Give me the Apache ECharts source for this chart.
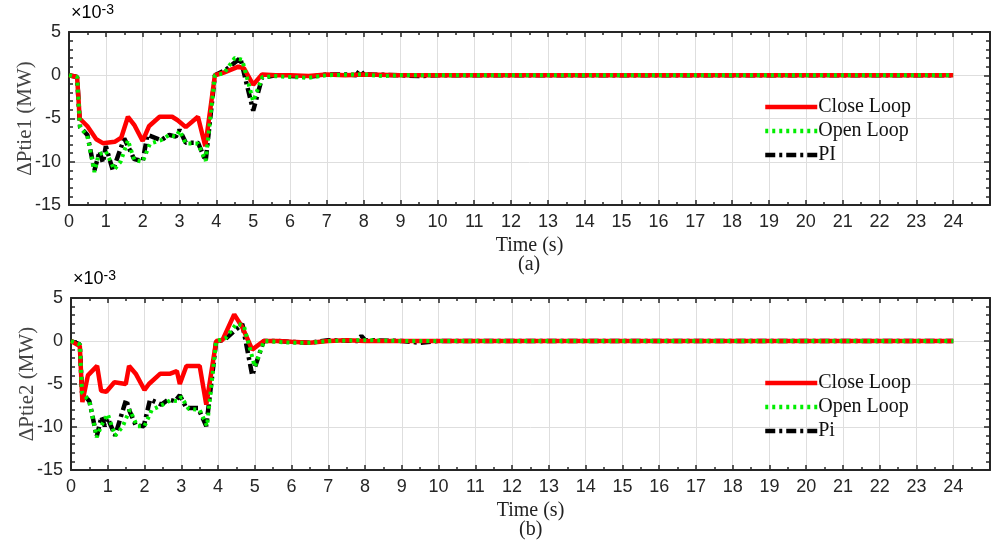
<!DOCTYPE html>
<html>
<head>
<meta charset="utf-8">
<script src="https://cdn.jsdelivr.net/npm/echarts@6/dist/echarts.min.js"></script>
<style>
    html, body { margin: 0; padding: 0; background: #fff; }
    #chart { width: 993px; height: 546px; }
</style>
</head>
<body>
<div id="chart"></div>
<script>
    // values in units of 1e-3 MW, time in s
    var closeTop = [[0, 0], [0.22, -0.2], [0.29, -5.0], [0.5, -5.9], [0.74, -7.4], [0.92, -7.85], [1.24, -7.7],
        [1.42, -7.2], [1.6, -4.8], [1.78, -5.8], [2.0, -7.6], [2.17, -5.9], [2.46, -4.8], [2.8, -4.8], [2.95, -5.2],
        [3.17, -6.0], [3.5, -4.8], [3.7, -8.2], [3.96, 0], [4.2, 0.3], [4.6, 1.0], [4.75, 0.8], [5.0, -1.1],
        [5.24, 0.1], [5.6, 0], [6.0, 0], [6.5, -0.1], [7.0, 0.1], [7.5, 0], [8.0, 0.1], [9.0, 0], [10, 0],
        [12, 0], [16, 0], [20, 0], [24, 0]];
    var openTop = [[0, 0], [0.22, -0.2], [0.3, -6.0], [0.5, -7.0], [0.69, -11.2], [0.8, -9.2], [1.0, -8.8],
        [1.23, -10.9], [1.4, -10.0], [1.6, -7.5], [1.77, -9.8], [2.0, -10.0], [2.2, -7.9], [2.5, -7.5],
        [2.72, -6.9], [2.9, -7.1], [3.0, -6.4], [3.17, -7.9], [3.5, -7.9], [3.71, -9.9], [3.96, 0], [4.2, 0.2],
        [4.5, 2.0], [4.7, 1.8], [5.0, -3.0], [5.25, -0.2], [5.6, -0.1], [6.0, -0.2], [6.5, -0.3], [7.0, 0],
        [8.0, 0.1], [8.5, -0.1], [9.0, 0], [10, 0], [12, 0], [16, 0], [20, 0], [24, 0]];
    var piTop = [[0, 0], [0.22, -0.2], [0.3, -6.0], [0.5, -6.9], [0.69, -11.0], [0.83, -8.8], [0.92, -10.1],
        [1.0, -8.2], [1.19, -11.0], [1.5, -7.3], [1.77, -9.7], [2.0, -9.9], [2.13, -6.9], [2.5, -7.5],
        [2.72, -6.9], [2.9, -7.1], [3.0, -6.3], [3.17, -7.8], [3.5, -7.8], [3.71, -9.9], [3.96, 0], [4.25, 0.6],
        [4.65, 2.0], [5.0, -4.1], [5.24, -0.3], [5.6, 0], [6.0, -0.1], [6.5, -0.2], [7.0, 0.1], [7.5, 0.1],
        [7.8, 0], [7.9, 0.6], [8.0, 0.1], [9.0, 0], [9.5, -0.1], [10, 0], [12, 0], [16, 0], [20, 0], [24, 0]];

    var closeBottom = [[0, 0], [0.24, -0.6], [0.31, -7.1], [0.46, -4.0], [0.71, -2.9], [0.82, -5.8], [0.96, -5.9],
        [1.18, -4.8], [1.49, -5.0], [1.58, -2.9], [1.76, -3.8], [2.0, -5.7], [2.12, -5.0], [2.43, -3.8],
        [2.7, -3.8], [2.88, -3.5], [2.96, -5.0], [3.14, -2.9], [3.5, -2.9], [3.68, -7.4], [3.95, 0], [4.12, 0.1],
        [4.44, 3.1], [4.66, 1.6], [4.93, -1.0], [5.24, 0], [5.6, 0], [6.0, -0.1], [6.5, -0.2], [7.0, 0],
        [7.5, 0.1], [8.0, 0], [9.0, 0], [10, 0], [12, 0], [16, 0], [20, 0], [24, 0]];
    var openBottom = [[0, 0], [0.24, -0.4], [0.3, -6.0], [0.5, -7.0], [0.7, -11.2], [0.83, -9.8], [1.0, -8.5],
        [1.2, -11.0], [1.4, -10.0], [1.6, -8.0], [1.8, -9.9], [2.0, -9.9], [2.2, -8.0], [2.5, -7.4], [2.7, -6.9],
        [2.9, -7.0], [3.0, -6.5], [3.2, -7.9], [3.5, -8.0], [3.7, -9.9], [3.95, 0], [4.2, 0.3], [4.5, 2.0],
        [4.7, 1.8], [5.0, -3.0], [5.25, 0], [5.6, -0.1], [6.0, -0.2], [6.5, -0.2], [7.0, 0], [8.0, 0.1],
        [9.0, 0], [10, 0], [12, 0], [16, 0], [20, 0], [24, 0]];
    var piBottom = [[0, 0], [0.24, -0.4], [0.3, -6.0], [0.5, -7.0], [0.7, -11.1], [0.83, -8.8], [0.92, -9.9],
        [1.0, -9.0], [1.2, -11.0], [1.5, -6.8], [1.6, -8.2], [1.76, -9.8], [1.98, -9.9], [2.15, -6.8],
        [2.46, -7.4], [2.65, -6.8], [2.83, -7.0], [2.96, -6.3], [3.14, -7.8], [3.46, -7.8], [3.68, -9.9],
        [3.95, 0], [4.17, 0.1], [4.66, 2.0], [4.93, -4.0], [5.24, 0], [5.6, 0], [6.0, -0.1], [6.5, -0.2],
        [7.0, 0.1], [7.8, 0], [7.9, 0.6], [8.0, 0.1], [9.0, 0], [9.5, -0.2], [10, 0], [12, 0], [16, 0],
        [20, 0], [24, 0]];

    var axisColor = '#262626';
    var serif = 'Liberation Serif';
    var sans = 'Liberation Sans';

    function mainX(gridIndex) {
        return {
            type: 'value', gridIndex: gridIndex, min: 0, max: 25, interval: 1,
            name: 'Time (s)', nameLocation: 'middle', nameGap: 31,
            nameTextStyle: {fontFamily: serif, fontSize: 20, color: '#222'},
            axisLine: {onZero: false, lineStyle: {color: axisColor, width: 2}},
            axisTick: {inside: true, length: 5, lineStyle: {color: axisColor, width: 1.5}},
            minorTick: {show: true, splitNumber: 2, length: 3, lineStyle: {color: axisColor, width: 1.5}},
            axisLabel: {showMaxLabel: false, margin: 8, fontFamily: sans, fontSize: 18, color: '#262626'},
            splitLine: {show: true, lineStyle: {color: '#dedede', width: 1}}
        };
    }

    function topX(gridIndex) {
        return {
            type: 'value', gridIndex: gridIndex, min: 0, max: 25, interval: 1, position: 'top',
            axisLine: {onZero: false, lineStyle: {color: axisColor, width: 2}},
            axisTick: {inside: true, length: 5, lineStyle: {color: axisColor, width: 1.5}},
            minorTick: {show: true, splitNumber: 2, length: 3, lineStyle: {color: axisColor, width: 1.5}},
            axisLabel: {show: false},
            splitLine: {show: false}
        };
    }

    function mainY(gridIndex, title) {
        return {
            type: 'value', gridIndex: gridIndex, min: -15, max: 5, interval: 5,
            name: title, nameLocation: 'middle', nameGap: 33, nameMoveOverlap: false,
            nameTextStyle: {fontFamily: serif, fontSize: 21, color: '#444'},
            axisLine: {onZero: false, lineStyle: {color: axisColor, width: 2}},
            axisTick: {inside: true, length: 6, lineStyle: {color: axisColor, width: 1.5}},
            minorTick: {show: true, splitNumber: 5, length: 4, lineStyle: {color: axisColor, width: 1.5}},
            axisLabel: {margin: 8, fontFamily: sans, fontSize: 18, color: '#262626'},
            splitLine: {show: true, lineStyle: {color: '#dedede', width: 1}}
        };
    }

    function rightY(gridIndex) {
        return {
            type: 'value', gridIndex: gridIndex, min: -15, max: 5, interval: 5, position: 'right',
            axisLine: {show: true, onZero: false, lineStyle: {color: axisColor, width: 2}},
            axisTick: {show: true, inside: true, length: 6, lineStyle: {color: axisColor, width: 1.5}},
            minorTick: {show: true, splitNumber: 5, length: 4, lineStyle: {color: axisColor, width: 1.5}},
            axisLabel: {show: false},
            splitLine: {show: false}
        };
    }

    function line(name, data, axisIndex, style, z) {
        return {
            name: name, type: 'line', xAxisIndex: axisIndex, yAxisIndex: axisIndex,
            data: data, symbol: 'none', z: z, lineStyle: style,
            itemStyle: {color: style.color}
        };
    }

    var redStyle = {color: '#ff0000', width: 4.5, type: 'solid'};
    var greenStyle = {color: '#00ee00', width: 4, type: [3, 4]};
    var blackStyle = {color: '#000000', width: 4.5, type: [10, 4, 3, 4]};

    var legendBase = {
        orient: 'vertical', left: 758, itemWidth: 52, itemHeight: 14, itemGap: 4,
        itemStyle: {opacity: 0},
        lineStyle: {width: 4.5},
        textStyle: {fontFamily: serif, fontSize: 20, color: '#111', padding: [0, 0, 0, -4]}
    };

    var chart = echarts.init(document.getElementById('chart'));
    var option = {
        animation: false,
        backgroundColor: '#fff',
        grid: [
            {left: 69, width: 921, top: 32, height: 173, outerBoundsMode: 'none'},
            {left: 71, width: 919, top: 298, height: 172, outerBoundsMode: 'none'}
        ],
        legend: [
            Object.assign({top: 92, data: ['Close Loop', 'Open Loop', 'PI']}, legendBase),
            Object.assign({top: 368, data: ['Close Loop', 'Open Loop', 'Pi']}, legendBase)
        ],
        xAxis: [mainX(0), mainX(1), topX(0), topX(1)],
        yAxis: [mainY(0, 'ΔPtie1 (MW)'), mainY(1, 'ΔPtie2 (MW)'), rightY(0), rightY(1)],
        series: [
            line('PI', piTop, 0, blackStyle, 2),
            line('Close Loop', closeTop, 0, redStyle, 3),
            line('Open Loop', openTop, 0, greenStyle, 4),
            line('Pi', piBottom, 1, blackStyle, 2),
            line('Close Loop', closeBottom, 1, redStyle, 3),
            line('Open Loop', openBottom, 1, greenStyle, 4)
        ],
        graphic: [
            {
                type: 'text', left: 71, top: 3,
                style: {
                    text: '{a|×10}{b|-3}',
                    rich: {
                        a: {fontFamily: sans, fontSize: 18, color: '#333', padding: [7, 0, 0, 0]},
                        b: {fontFamily: sans, fontSize: 14, color: '#333'}
                    }
                }
            },
            {
                type: 'text', left: 73, top: 269,
                style: {
                    text: '{a|×10}{b|-3}',
                    rich: {
                        a: {fontFamily: sans, fontSize: 18, color: '#333', padding: [7, 0, 0, 0]},
                        b: {fontFamily: sans, fontSize: 14, color: '#333'}
                    }
                }
            },
            {
                type: 'text', left: 518, top: 255,
                style: {text: '(a)', fontFamily: serif, fontSize: 20, fill: '#222'}
            },
            {
                type: 'text', left: 519, top: 520,
                style: {text: '(b)', fontFamily: serif, fontSize: 20, fill: '#222'}
            }
        ]
    };

    chart.setOption(option);
    window.addEventListener('resize', function () {
        chart.resize();
    });
</script>
</body>
</html>
